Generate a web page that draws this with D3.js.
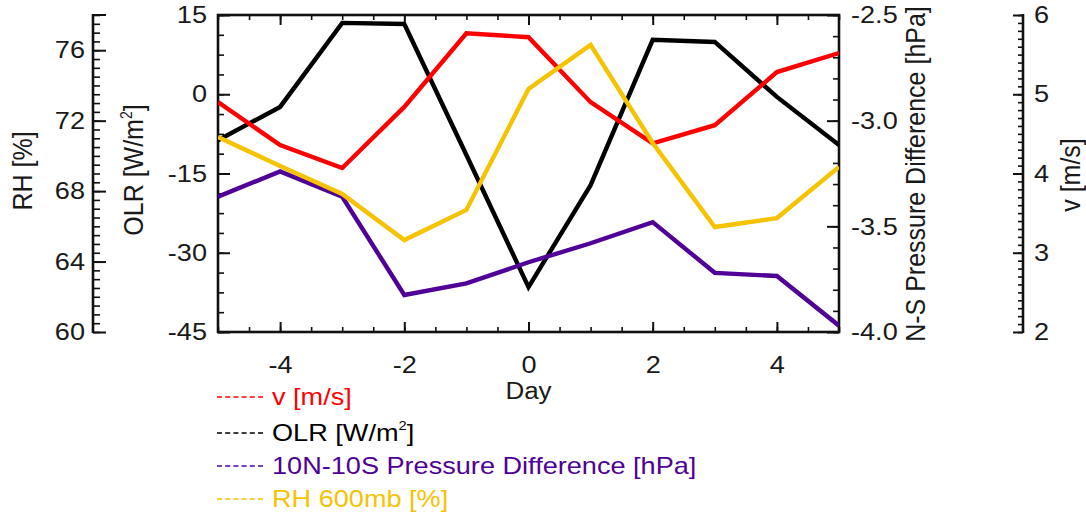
<!DOCTYPE html>
<html>
<head>
<meta charset="utf-8">
<script src="https://cdn.jsdelivr.net/npm/d3@7"></script>
<style>
  html, body { margin: 0; padding: 0; background: #fff; }
  svg { display: block; font-family: "Liberation Sans", Arial, Helvetica, sans-serif; }
</style>
</head>
<body>
<svg id="chart" width="1086" height="514"></svg>
<script>
// Composite evolution, days relative to event onset
const days = [-5, -4, -3, -2, -1, 0, 1, 2, 3, 4, 5];
const vWind = [4.90, 4.36, 4.07, 4.84, 5.77, 5.72, 4.90, 4.38, 4.61, 5.28, 5.52];       // m/s
const olr = [-8.7, -2.4, 13.5, 13.3, -11.5, -36.5, -17.2, 10.3, 9.9, -0.5, -9.6];        // W/m2
const pDiff = [-3.36, -3.24, -3.36, -3.825, -3.77, -3.67, -3.58, -3.48, -3.72, -3.735, -3.97]; // hPa
const rh600 = [71.07, 69.43, 67.84, 65.22, 66.93, 73.8, 76.3, 70.73, 65.96, 66.47, 69.37];  // %

const dayTicks = [-4, -2, 0, 2, 4];
const olrTicks = [-45, -30, -15, 0, 15];
const pTicks = [-4.0, -3.5, -3.0, -2.5];
const rhTicks = [60, 64, 68, 72, 76];
const vTicks = [2, 3, 4, 5, 6];

const legendLabels = ["v [m/s]", "OLR [W/m", "10N-10S Pressure Difference [hPa]", "RH 600mb [%]"];

const colors = { v: "#ff0000", olr: "#000000", p: "#500096", rh: "#f7c200" };

const svg = d3.select("#chart");
const L = 218, R = 839, T = 15, B = 332;
const SX = 1.13; // horizontal stretch of the lettering
const TICK_FS = 24;

const x = d3.scaleLinear([-5, 5], [L, R]);
const yOLR = d3.scaleLinear([-45, 15], [B, T]);
const yP = d3.scaleLinear([-4.0, -2.5], [B, T]);
const yRH = d3.scaleLinear([60, 78], [B, T]);
const yV = d3.scaleLinear([2, 6], [B, T]);

const range = (a, b, s) => d3.range(Math.round((b - a) / s) + 1).map(i => +(a + i * s).toFixed(4));
// plain hyphen for negative numbers
const fmt = spec => { const f = d3.format(spec); return v => f(v).replace("\u2212", "-"); };

function styleAxis(g) {
  g.select(".domain").remove();
  g.selectAll(".tick line").attr("stroke", "#111").attr("stroke-width", 2);
  g.selectAll(".tick text")
    .attr("fill", "#1a1a1a")
    .style("font-size", TICK_FS + "px")
    .each(function () {
      const t = d3.select(this);
      const tx = +t.attr("x") || 0;
      t.attr("x", 0).attr("transform", `translate(${tx},0) scale(${SX},1)`);
    });
}

function addAxis(axisGen, scale, major, minor, tx, ty, majLen, minLen, pad, format) {
  const gMin = svg.append("g").attr("transform", `translate(${tx},${ty})`)
    .call(axisGen(scale).tickValues(minor).tickSize(minLen).tickFormat(""));
  styleAxis(gMin);
  gMin.selectAll(".tick line").attr("stroke-width", 1.6);
  const gMaj = svg.append("g").attr("transform", `translate(${tx},${ty})`)
    .call(axisGen(scale).tickValues(major).tickSize(majLen).tickPadding(pad).tickFormat(format));
  styleAxis(gMaj);
  return gMaj;
}

// bottom and top day axes (ticks pointing into the box)
const gx = addAxis(d3.axisBottom, x, dayTicks, range(-5, 5, 0.5), 0, B, -10, -5, 24, fmt("d"));
gx.selectAll(".tick text").attr("dy", "0.71em");
addAxis(d3.axisTop, x, dayTicks, range(-5, 5, 0.5), 0, T, -10, -5, 0, () => "");

// OLR axis on the box's left edge
addAxis(d3.axisLeft, yOLR, olrTicks, range(-45, 15, 3.75), L, 0, -12, -6, 11, fmt("d"));
// pressure-difference axis on the box's right edge
addAxis(d3.axisRight, yP, pTicks, range(-4.0, -2.5, 0.1), R, 0, -12, -6, 12, fmt(".1f"));

// free-standing RH axis at far left
addAxis(d3.axisLeft, yRH, rhTicks, range(60, 78, 0.5), 93, 0, -13, -7, 8, fmt("d"));
svg.append("line").attr("x1", 93).attr("x2", 93).attr("y1", T - 1).attr("y2", B + 1)
  .attr("stroke", "#111").attr("stroke-width", 2.6);
svg.append("line").attr("x1", 92).attr("x2", 106).attr("y1", T).attr("y2", T)
  .attr("stroke", "#111").attr("stroke-width", 2);

// free-standing v axis at far right
addAxis(d3.axisRight, yV, vTicks, range(2, 6, 0.1), 1023, 0, -10, -5, 11, fmt("d"));
svg.append("line").attr("x1", 1023).attr("x2", 1023).attr("y1", T - 1).attr("y2", B + 1)
  .attr("stroke", "#111").attr("stroke-width", 2.6);

// plot frame
svg.append("rect").attr("x", L).attr("y", T).attr("width", R - L).attr("height", B - T)
  .attr("fill", "none").attr("stroke", "#111").attr("stroke-width", 2.6);

// series
svg.append("clipPath").attr("id", "plotClip").append("rect")
  .attr("x", L).attr("y", T - 2).attr("width", R - L).attr("height", B - T + 4);
const plot = svg.append("g").attr("clip-path", "url(#plotClip)");

const series = [
  { vals: olr, y: yOLR, c: colors.olr },
  { vals: pDiff, y: yP, c: colors.p },
  { vals: vWind, y: yV, c: colors.v },
  { vals: rh600, y: yRH, c: colors.rh }
];
series.forEach(s => {
  const line = d3.line().x((d, i) => x(days[i])).y(d => s.y(d));
  plot.append("path").datum(s.vals).attr("d", line)
    .attr("fill", "none").attr("stroke", s.c).attr("stroke-width", 4.4)
    .attr("stroke-linejoin", "miter").attr("stroke-linecap", "butt");
});

// axis titles
function vTitle(cx, cy, parts) {
  const t = svg.append("text")
    .attr("transform", `translate(${cx},${cy}) scale(${SX},1) rotate(-90)`)
    .attr("text-anchor", "middle").attr("fill", "#1a1a1a").style("font-size", "25px");
  parts.forEach(p => {
    const ts = t.append("tspan").text(p.t);
    if (p.sup) ts.style("font-size", "14px").attr("dy", "-10");
    if (p.after) ts.attr("dy", "10");
  });
  return t;
}
vTitle(32, 171, [{ t: "RH [%]" }]);
vTitle(143, 170, [{ t: "OLR [W/m" }, { t: "2", sup: true }, { t: "]", after: true }]);
vTitle(925, 174, [{ t: "N-S Pressure Difference [hPa]" }]);
vTitle(1080, 175, [{ t: "v [m/s]" }]);

// day label
svg.append("text").attr("transform", `translate(${x(0)},399) scale(${SX},1)`)
  .attr("text-anchor", "middle").attr("fill", "#1a1a1a").style("font-size", "23px").text("Day");

// legend
const legY = [405, 441, 474, 507];
const legCols = [colors.v, colors.olr, colors.p, colors.rh];
legendLabels.forEach((lab, i) => {
  const y0 = legY[i];
  svg.append("line").attr("x1", 217).attr("x2", 263).attr("y1", y0 - 8).attr("y2", y0 - 8)
    .attr("stroke", legCols[i]).attr("stroke-width", 1.6).attr("stroke-dasharray", "5,3.2");
  const t = svg.append("text").attr("transform", `translate(272,${y0}) scale(${SX},1)`)
    .attr("fill", legCols[i]).style("font-size", "24px");
  t.append("tspan").text(lab);
  if (i === 1) {
    t.append("tspan").text("2").style("font-size", "13px").attr("dy", "-11");
    t.append("tspan").text("]").attr("dy", "11");
  }
});
</script>
</body>
</html>
